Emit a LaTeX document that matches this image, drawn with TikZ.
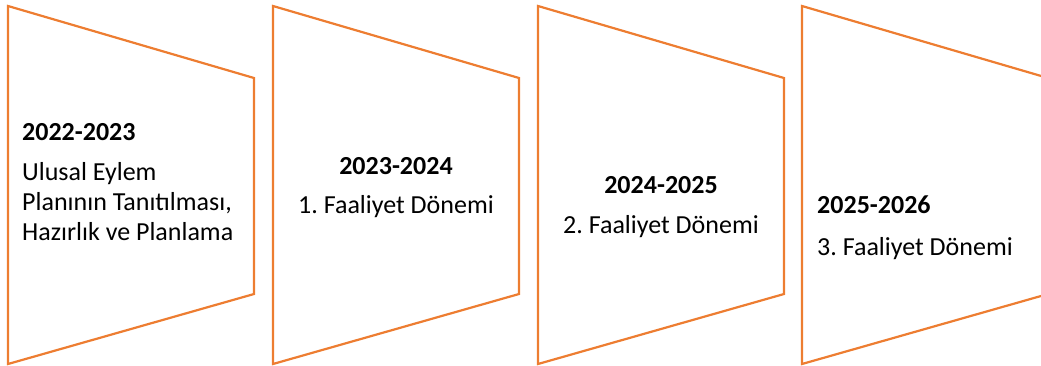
\documentclass[tikz,border=0pt]{standalone}
\usepackage{fontspec}
\setmainfont{Carlito}
\frenchspacing
\usetikzlibrary{positioning}
\definecolor{phaseorange}{HTML}{ED7D31}
\tikzset{
	%Define style for phase shapes
	phase/.style={
	       draw=phaseorange,
	       line width=2.2pt,
	       line join=miter},
	%Define style for phase texts
	phasetext/.style={
	       inner sep=0pt,
	       text=black,
	       font=\fontsize{26}{30}\selectfont},
	phaseleft/.style={
	       phasetext,
	       align=left,
	       anchor=base west},
	phasecenter/.style={
	       phasetext,
	       align=center,
	       anchor=base}
}

\begin{document}
\begin{tikzpicture}[x=1pt, y=-1pt] % pixel grid, y downwards
	\useasboundingbox (0,0) rectangle (1041,365);
	\clip (0,0) rectangle (1041,365);
	% phase shapes
	\foreach \x in {8,273,538,802}{
		\draw[phase] (\x,6) -- ++(246,72) -- ++(0,216) -- (\x,364) -- cycle;
	}
	% phase texts (base = last line)
	\node[phaseleft] (donem0) at (22,240)
		{\textbf{2022-2023}\\[10pt]Ulusal Eylem\\Planının Tanıtılması,\\Hazırlık ve Planlama};
	\node[phasecenter] (donem1) at (396,213)
		{\textbf{2023-2024}\\[9pt]1. Faaliyet Dönemi};
	\node[phasecenter] (donem2) at (661,233)
		{\textbf{2024-2025}\\[10pt]2. Faaliyet Dönemi};
	\node[phaseleft] (donem3) at (817,255)
		{\textbf{2025-2026}\\[12pt]3. Faaliyet Dönemi};
\end{tikzpicture}
\end{document}
